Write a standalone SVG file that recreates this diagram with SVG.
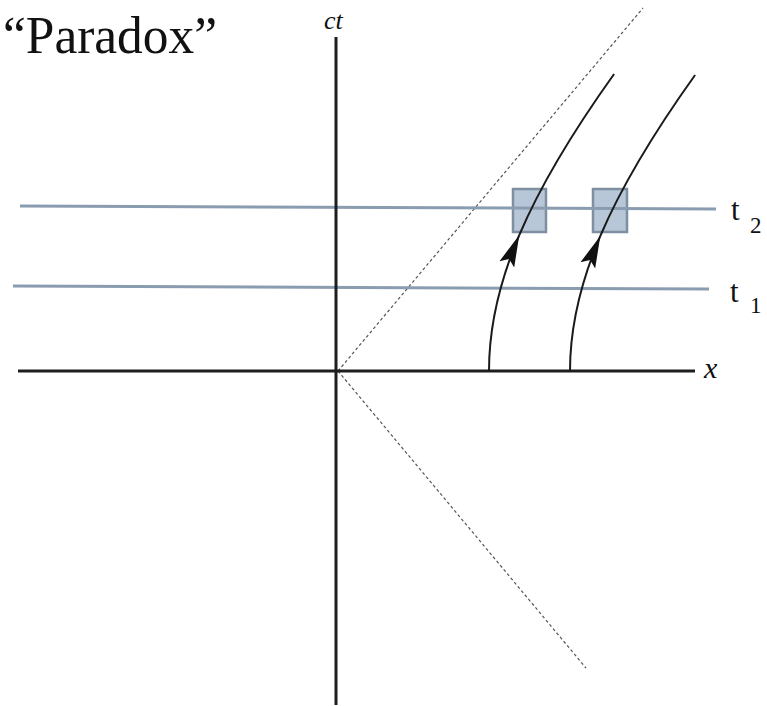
<svg xmlns="http://www.w3.org/2000/svg" width="767" height="706" viewBox="0 0 767 706">
<style>
.axis{stroke:#1e1e1e;stroke-width:3;fill:none}
.light{stroke:#555;stroke-width:1.2;stroke-dasharray:3 2.5;fill:none}
.tline{stroke:#8a9cb0;stroke-width:3;fill:none}
.box{fill:#b7c7d8;stroke:#7e8fa2;stroke-width:2.5}
.wl{stroke:#1a1a1a;stroke-width:2;fill:none}
.lbl{font-family:"Liberation Serif",serif;fill:#111}
</style>
<defs>
<marker id="ah" markerUnits="userSpaceOnUse" markerWidth="34" markerHeight="20" refX="32" refY="10" orient="auto" viewBox="0 0 34 20">
<path d="M0,2 L32,10 L0,18 L6,10 z" fill="#111"/>
</marker>
</defs>
<rect width="767" height="706" fill="#fff"/>
<g id="title"><text class="lbl" x="3" y="53" font-size="52" textLength="214" lengthAdjust="spacingAndGlyphs">“Paradox”</text></g>
<g id="boxes">
<rect id="box1" class="box" x="513" y="189" width="33" height="43"/>
<rect id="box2" class="box" x="593" y="189" width="34" height="43"/>
</g>
<g id="connectors">
<line class="light" x1="338" y1="371" x2="643" y2="8"/>
<line class="light" x1="338" y1="371" x2="586" y2="668"/>
<line class="tline" x1="20" y1="206" x2="716" y2="209"/>
<line class="tline" x1="13" y1="286" x2="709" y2="289"/>
<line class="axis" x1="336" y1="37" x2="336" y2="705"/>
<line class="axis" x1="18" y1="371" x2="695" y2="371"/>
<g id="worldline1">
<path class="wl" d="M489,371 C489,326 500.2,280 519.3,235" marker-end="url(#ah)"/>
<path class="wl" d="M519.3,235 C542.3,181 575.5,128 614.1,74"/>
</g>
<g id="worldline2" transform="translate(81,1)">
<path class="wl" d="M489,370 C489,326 500.2,280 519.3,235" marker-end="url(#ah)"/>
<path class="wl" d="M519.3,235 C542.3,181 575.5,128 614.1,74"/>
</g>
</g>
<g id="labels">
<text class="lbl" x="324" y="29" font-size="26" font-style="italic">ct</text>
<text class="lbl" x="704" y="378" font-size="30" font-style="italic">x</text>
<g id="t2"><text class="lbl" x="731" y="220" font-size="31">t</text><text class="lbl" x="750" y="233" font-size="23">2</text></g>
<g id="t1"><text class="lbl" x="730" y="302" font-size="31">t</text><text class="lbl" x="750" y="313" font-size="23">1</text></g>
</g>
</svg>
